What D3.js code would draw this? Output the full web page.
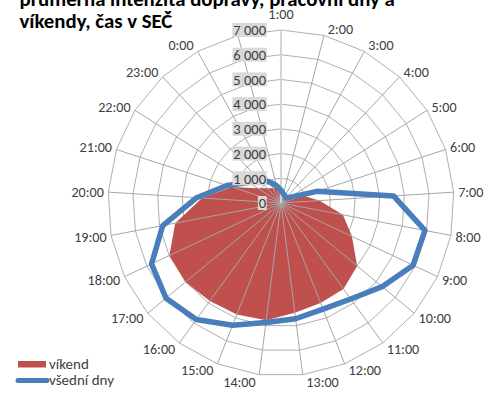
<!DOCTYPE html>
<html>
<head>
<meta charset="utf-8">
<script src="https://cdn.jsdelivr.net/npm/d3@7"></script>
<style>
  body { margin: 0; background: #fff; }
  svg { display: block; font-family: Carlito, Calibri, Lato, sans-serif; }
</style>
</head>
<body>
<div id="chart"></div>
<script>
// kategorie (25. paprsek nemá popisek)
const hours = ["1:00", "2:00", "3:00", "4:00", "5:00", "6:00", "7:00", "8:00", "9:00", "10:00",
  "11:00", "12:00", "13:00", "14:00", "15:00", "16:00", "17:00", "18:00", "19:00", "20:00",
  "21:00", "22:00", "23:00", "0:00", ""];

const vikend = [420, 320, 290, 300, 560, 950, 1550, 2550, 3170, 4000,
  4300, 4350, 4480, 4780, 4850, 4900, 5020, 4990, 4360, 3200,
  2100, 1110, 820, 680, 620];

const vsedniDny = [520, 380, 330, 300, 420, 1530, 4560, 5930, 5910, 5310,
  4800, 4620, 4720, 4870, 5320, 5830, 6040, 5790, 4870, 3420,
  2300, 1550, 1180, 980, 720];

const ticks = [0, 1000, 2000, 3000, 4000, 5000, 6000, 7000];
const tickLabels = ["0", "1 000", "2 000", "3 000", "4 000", "5 000", "6 000", "7 000"];

const titleLines = ["průměrná intenzita dopravy, pracovní dny a", "víkendy, čas v SEČ"];

const width = 489, height = 395;
const cx = 281, cy = 203, radius = 173;

const svg = d3.select("#chart").append("svg")
  .attr("width", width)
  .attr("height", height);

// Calibri tu není - velikost písma dopočítat podle šířky vzorku
function fitSize(sample, target, weight) {
  const t = svg.append("text")
    .style("font-size", "20px")
    .style("font-weight", weight || "normal")
    .text(sample);
  const w = t.node().getComputedTextLength();
  t.remove();
  return 20 * target / w;
}
const labelSize = fitSize("10:00", 32.5);
const valueSize = fitSize("7 000", 32.8);
const titleSize = fitSize(titleLines[1], 153, "bold");
const legendSize = fitSize("všední dny", 65);

const r = d3.scaleLinear().domain([0, 7000]).range([0, radius]);
const angle = d3.scaleLinear().domain([0, hours.length]).range([0, 2 * Math.PI]);

const g = svg.append("g").attr("transform", `translate(${cx},${cy})`);

const radial = d3.lineRadial()
  .angle((d, i) => angle(i))
  .radius(d => r(d))
  .curve(d3.curveLinearClosed);

// kruhy mřížky
g.append("g")
  .selectAll("path")
  .data(ticks.slice(1))
  .enter()
  .append("path")
  .attr("d", t => radial(hours.map(() => t)))
  .attr("fill", "none")
  .attr("stroke", "#b0b0b0")
  .attr("stroke-width", 1);

// víkend - plocha
g.append("path")
  .attr("d", radial(vikend))
  .attr("fill", "#c0504d");

// paprsky
g.append("g")
  .selectAll("line")
  .data(hours)
  .enter()
  .append("line")
  .attr("x1", 0).attr("y1", 0)
  .attr("x2", (d, i) => r(7000) * Math.sin(angle(i)))
  .attr("y2", (d, i) => -r(7000) * Math.cos(angle(i)))
  .attr("stroke", "#a6a6a6")
  .attr("stroke-width", 1);

// osa hodnot
g.append("line")
  .attr("x1", 0).attr("y1", 0)
  .attr("x2", 0).attr("y2", -r(7000))
  .attr("stroke", "#d4d4d4")
  .attr("stroke-width", 2);

// všední dny - čára
g.append("path")
  .attr("d", radial(vsedniDny))
  .attr("fill", "none")
  .attr("stroke", "#4a7ebb")
  .attr("stroke-width", 5.5)
  .attr("stroke-linejoin", "round");

// popisky kategorií
g.append("g")
  .selectAll("text")
  .data(hours.map((h, i) => ({ h, i })).filter(d => d.h !== ""))
  .enter()
  .append("text")
  .attr("x", d => {
    const s = Math.sin(angle(d.i));
    return 174 * s + (Math.abs(s) < 0.01 ? 0 : Math.sign(s) * 3.5);
  })
  .attr("y", d => {
    const c = Math.cos(angle(d.i));
    return -180 * c + 0.36 * labelSize - (c > 0.999 ? 9.5 : 0);
  })
  .attr("text-anchor", d => {
    const s = Math.sin(angle(d.i));
    return Math.abs(s) < 0.01 ? "middle" : (s > 0 ? "start" : "end");
  })
  .style("font-size", labelSize + "px")
  .style("fill", "#404040")
  .text(d => d.h);

// popisky osy hodnot s šedým pozadím
const valLabels = g.append("g")
  .selectAll("g")
  .data(ticks)
  .enter()
  .append("g")
  .attr("transform", t => `translate(-14.3,${-r(t)})`);

valLabels.append("text")
  .attr("x", -0.7)
  .attr("y", 0.36 * valueSize)
  .attr("text-anchor", "end")
  .style("font-size", valueSize + "px")
  .style("fill", "#404040")
  .text((t, i) => tickLabels[i]);

valLabels.each(function () {
  const node = d3.select(this);
  const w = node.select("text").node().getComputedTextLength();
  node.insert("rect", "text")
    .attr("x", -w - 1.5)
    .attr("y", -7)
    .attr("width", w + 1.5)
    .attr("height", 14)
    .attr("fill", "#d9d9d9");
});

// nadpis
svg.append("g")
  .selectAll("text")
  .data(titleLines)
  .enter()
  .append("text")
  .attr("x", 19.5)
  .attr("y", (d, i) => 5.5 + i * 22.8)
  .style("font-size", titleSize + "px")
  .style("font-weight", "bold")
  .style("fill", "#000")
  .text(d => d);

// legenda
const legend = svg.append("g");
legend.append("rect")
  .attr("x", 18).attr("y", 361)
  .attr("width", 28).attr("height", 6.5)
  .attr("fill", "#c0504d");
legend.append("text")
  .attr("x", 49).attr("y", 369)
  .style("font-size", legendSize + "px")
  .style("fill", "#404040")
  .text("víkend");
legend.append("line")
  .attr("x1", 18).attr("x2", 47)
  .attr("y1", 380.5).attr("y2", 380.5)
  .attr("stroke", "#4a7ebb")
  .attr("stroke-width", 5)
  .attr("stroke-linecap", "round");
legend.append("text")
  .attr("x", 49).attr("y", 385)
  .style("font-size", legendSize + "px")
  .style("fill", "#404040")
  .text("všední dny");
</script>
</body>
</html>
